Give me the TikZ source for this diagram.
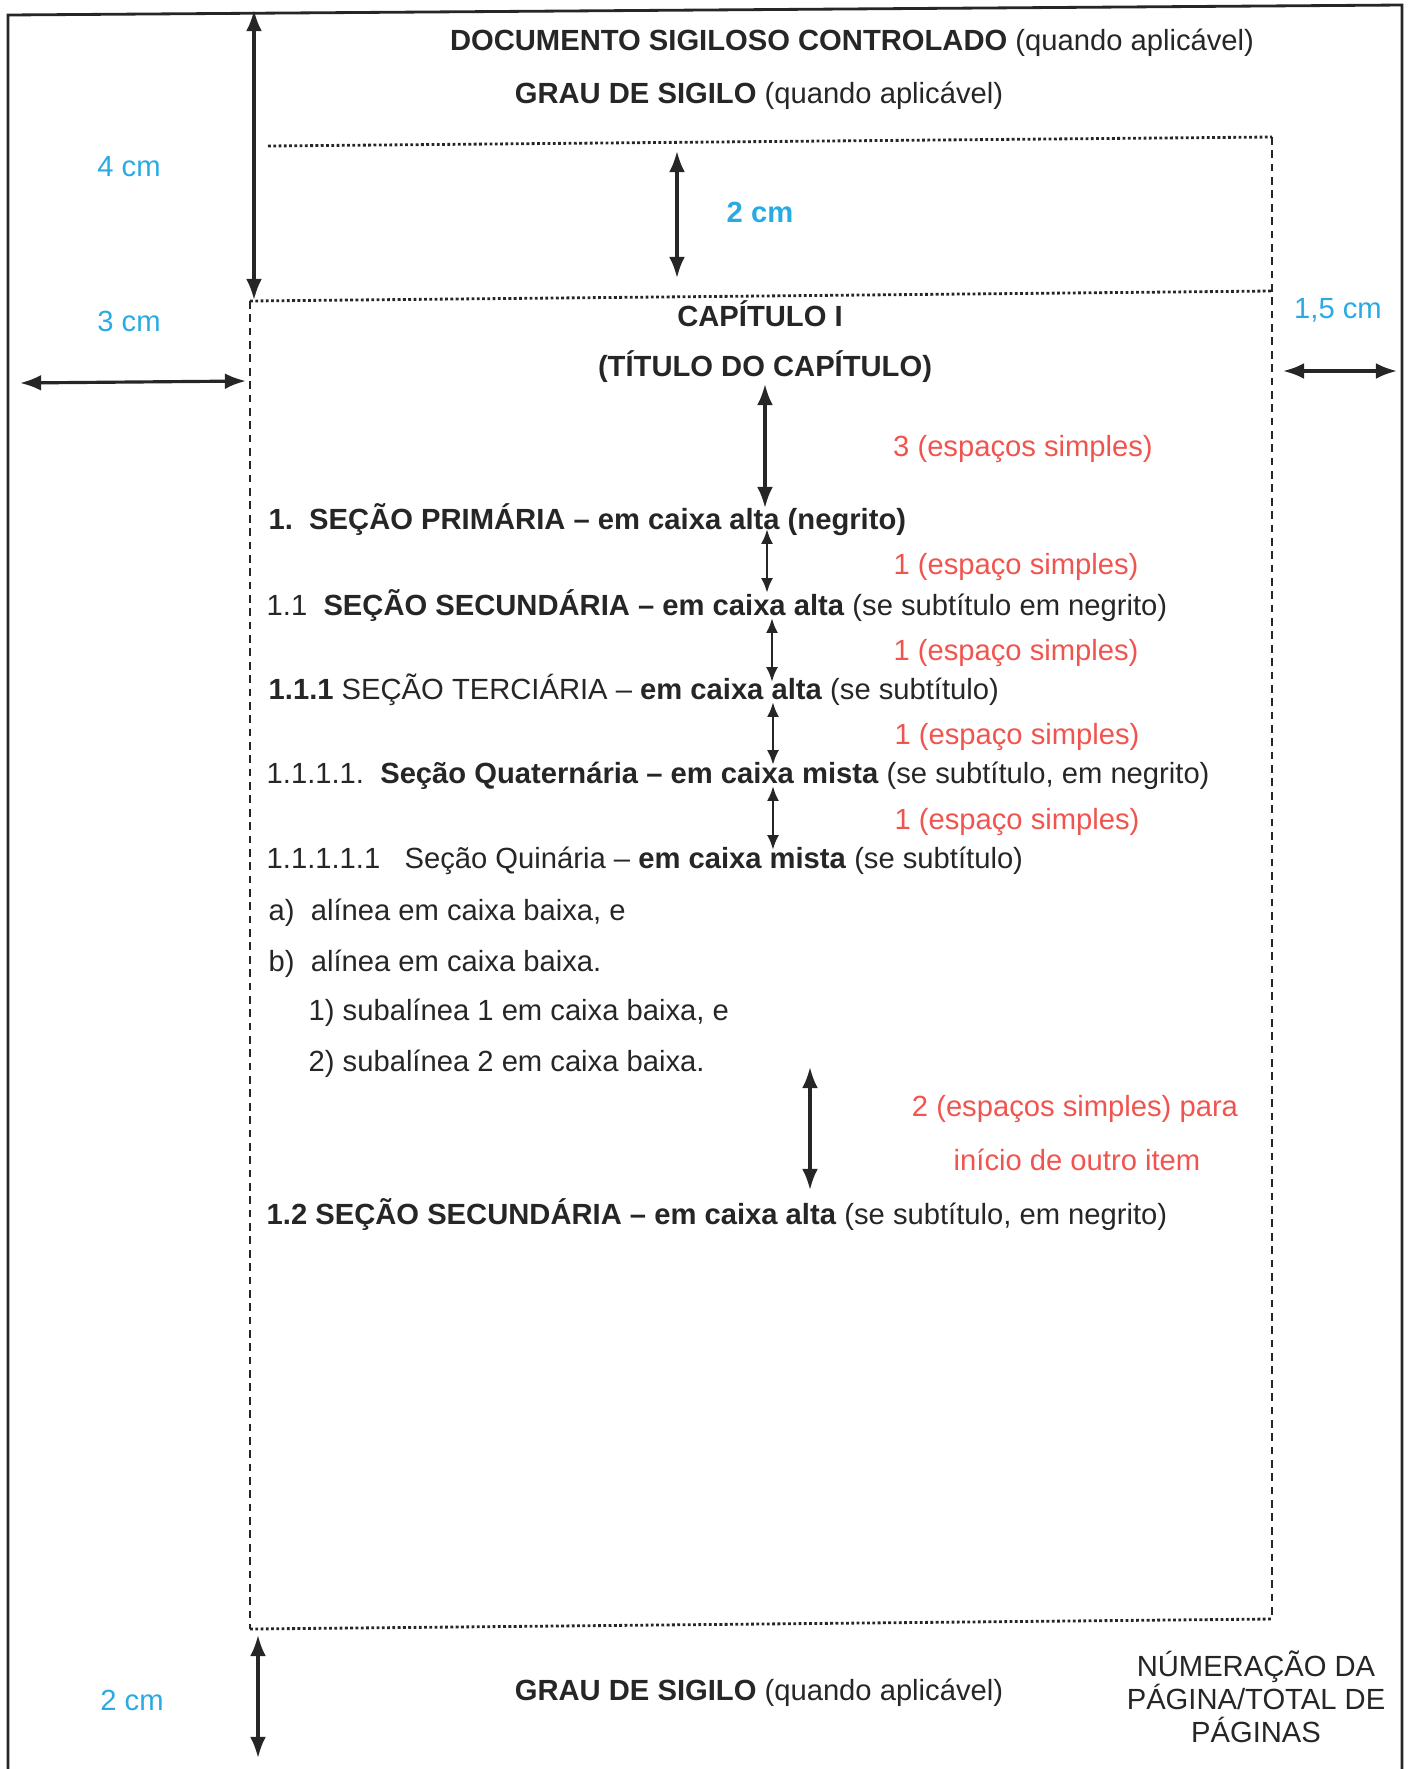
\documentclass[tikz,border=0pt]{standalone}
\usepackage{fontspec}
\setmainfont{Liberation Sans}
\usetikzlibrary{arrows.meta}

\definecolor{cotaazul}{RGB}{41,171,226}
\definecolor{cotavermelho}{RGB}{240,84,79}
\definecolor{tinta}{RGB}{38,38,38}

\tikzset{
  texto/.style={font=\fontsize{8.3}{9.4}\selectfont, text=tinta, inner sep=0pt},
  secao/.style={texto, anchor=west},
  cota/.style={font=\fontsize{8.3}{10}\selectfont, text=cotaazul, inner sep=0pt},
  espaco/.style={font=\fontsize{8.3}{10}\selectfont, text=cotavermelho, inner sep=0pt},
  seta/.style={draw=tinta, line width=0.9pt, {Latex[length=6pt,width=4.5pt]}-{Latex[length=6pt,width=4.5pt]}},
  setinha/.style={draw=tinta, line width=0.8pt, {Latex[length=4.2pt,width=3.4pt]}-{Latex[length=4.2pt,width=3.4pt]}},
  pontilhado/.style={draw=tinta, line width=0.8pt, dash pattern=on 0.8pt off 0.7pt},
  tracejado/.style={draw=tinta, line width=0.5pt, dash pattern=on 2.2pt off 1.6pt},
}

\begin{document}
\begin{tikzpicture}[x=0.01cm,y=-0.01cm]
    \useasboundingbox (0,0) rectangle (1410,1769);

    % folha
    \draw[line width=0.8pt, tinta] (8,1769) -- (8,15) -- (1402,5) -- (1402,1769);

    % margens
    \draw[pontilhado] (268,146) -- (1272,137);
    \draw[pontilhado] (250,301) -- (1272,291);
    \draw[pontilhado] (250,1629) -- (1272,1619);
    \draw[tracejado] (250,301) -- (250,1629);
    \draw[tracejado] (1272,137) -- (1272,1619);

    % cabecalho
    \node[texto] (docsig) at (852,43) {\textbf{DOCUMENTO SIGILOSO CONTROLADO} (quando aplicável)};
    \node[texto] (grau) at (759,96) {\textbf{GRAU DE SIGILO} (quando aplicável)};

    % cotas da folha
    \coordinate (sup4a) at (254,10);
    \coordinate (sup4b) at (254,300);
    \draw[seta] (sup4a) -- (sup4b);
    \node[cota] (c4) at (129,167) {4 cm};

    \coordinate (sup2a) at (677,151);
    \coordinate (sup2b) at (677,278);
    \draw[seta] (sup2a) -- (sup2b);
    \node[cota, font=\fontsize{8.3}{10}\selectfont\bfseries] (c2) at (760,212) {2 cm};

    \coordinate (esq3a) at (20,383);
    \coordinate (esq3b) at (246,381);
    \draw[seta] (esq3a) -- (esq3b);
    \node[cota] (c3) at (129,321) {3 cm};

    \coordinate (dir15a) at (1283,371);
    \coordinate (dir15b) at (1397,371);
    \draw[seta] (dir15a) -- (dir15b);
    \node[cota] (c15) at (1338,310) {1,5 cm};

    \coordinate (inf2a) at (258,1635);
    \coordinate (inf2b) at (258,1758);
    \draw[seta] (inf2a) -- (inf2b);
    \node[cota] (cinf) at (132,1700) {2 cm};

    % capitulo
    \node[texto] (cap) at (760,314) {\textbf{CAPÍTULO I}};
    \node[texto] (titulo) at (765,367) {\textbf{(TÍTULO DO CAPÍTULO)}};

    % secoes
    \node[secao] (s1) at (268,520) {\textbf{1.\ \ SEÇÃO PRIMÁRIA – em caixa alta (negrito)}};
    \node[secao] (s11) at (266,606) {1.1\ \ \textbf{SEÇÃO SECUNDÁRIA – em caixa alta} (se subtítulo em negrito)};
    \node[secao] (s111) at (268,690) {\textbf{1.1.1} SEÇÃO TERCIÁRIA – \textbf{em caixa alta} (se subtítulo)};
    \node[secao] (s1111) at (266,776) {1.1.1.1.\ \ \textbf{Seção Quaternária – em caixa mista} (se subtítulo, em negrito)};
    \node[secao] (s11111) at (266,861) {1.1.1.1.1\ \ \ Seção Quinária – \textbf{em caixa mista} (se subtítulo)};
    \node[secao] (ala) at (268,913) {a)\ \ alínea em caixa baixa, e};
    \node[secao] (alb) at (268,964) {b)\ \ alínea em caixa baixa.};
    \node[secao] (sub1) at (308,1013) {1)\ subalínea 1 em caixa baixa, e};
    \node[secao] (sub2) at (308,1064) {2)\ subalínea 2 em caixa baixa.};
    \node[secao] (s12) at (266,1215) {\textbf{1.2 SEÇÃO SECUNDÁRIA – em caixa alta} (se subtítulo, em negrito)};

    % espacamentos
    \coordinate (e3a) at (765,384);
    \coordinate (e3b) at (765,508);
    \draw[seta] (e3a) -- (e3b);
    \node[espaco] (t3) at (1023,449) {3 (espaços simples)};

    \coordinate (e1a) at (767,529);
    \coordinate (e1b) at (767,593);
    \draw[setinha] (e1a) -- (e1b);
    \node[espaco] (t1a) at (1016,567) {1 (espaço simples)};

    \coordinate (e2a) at (772,618);
    \coordinate (e2b) at (772,682);
    \draw[setinha] (e2a) -- (e2b);
    \node[espaco] (t1b) at (1016,653) {1 (espaço simples)};

    \coordinate (e4a) at (773,702);
    \coordinate (e4b) at (773,765);
    \draw[setinha] (e4a) -- (e4b);
    \node[espaco] (t1c) at (1017,737) {1 (espaço simples)};

    \coordinate (e5a) at (773,786);
    \coordinate (e5b) at (773,850);
    \draw[setinha] (e5a) -- (e5b);
    \node[espaco] (t1d) at (1017,822) {1 (espaço simples)};

    \coordinate (e6a) at (810,1067);
    \coordinate (e6b) at (810,1190);
    \draw[seta] (e6a) -- (e6b);
    \node[espaco] (t2a) at (1075,1109) {2 (espaços simples) para};
    \node[espaco] (t2b) at (1077,1160) {início de outro item};

    % rodape
    \node[texto] (grauinf) at (759,1693) {\textbf{GRAU DE SIGILO} (quando aplicável)};
    \node[texto, align=center] (pag) at (1256,1697) {NÚMERAÇÃO DA\\PÁGINA/TOTAL DE\\PÁGINAS};

\end{tikzpicture}
\end{document}
